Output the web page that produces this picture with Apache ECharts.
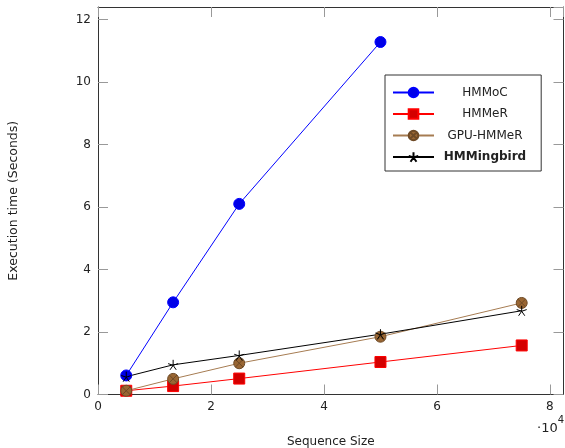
<!DOCTYPE html>
<html><head><meta charset="utf-8">
<script src="https://cdn.jsdelivr.net/npm/echarts@6/dist/echarts.min.js"></script>
<style>html,body{margin:0;padding:0;background:#fff}#c{width:565px;height:448px}</style>
</head><body><div id="c"></div>
<script>
// x values in units of 10^4
const xValues = [0.5, 1.33, 2.5, 5.0, 7.5];
const seriesNames = ['HMMoC', 'HMMeR', 'GPU-HMMeR', 'HMMingbird'];
const hmmoc = [0.61, 2.95, 6.1, 11.28];
const hmmer = [0.12, 0.27, 0.51, 1.04, 1.57];
const gpuHmmer = [0.12, 0.5, 1.0, 1.85, 2.93];
const hmmingbird = [0.57, 0.95, 1.25, 1.93, 2.68];
const xTicks = [0, 2, 4, 6, 8];
const yTicks = [0, 2, 4, 6, 8, 10, 12];

const FONT = 'DejaVu Sans';
function pairs(ys){ return ys.map((y,i)=>[xValues[i], y]); }
const otimes = 'path://M0,-10 A10,10 0 1,1 0,10 A10,10 0 1,1 0,-10 Z M-7.07,-7.07 L7.07,7.07 M-7.07,7.07 L7.07,-7.07';
const star = 'path://M0,-10 L0,0 M0,0 L9.51,-3.09 M0,0 L5.88,8.09 M0,0 L-5.88,8.09 M0,0 L-9.51,-3.09';

const chart = echarts.init(document.getElementById('c'), null, {renderer:'canvas'});
const axisCommon = {
  type:'value', min:0,
  axisLine:{show:true, onZero:false, lineStyle:{color:'#333', width:1}},
  axisTick:{show:true, inside:true, length:10, lineStyle:{color:'#999', width:1}},
  splitLine:{show:false}
};
chart.setOption({
  animation:false,
  textStyle:{fontFamily:FONT},
  grid:{left:98, top:7, right:1.5, bottom:53.5, containLabel:false, outerBoundsMode:'none'},
  legend:{
    left:385, top:75, orient:'vertical',
    borderColor:'#333', borderWidth:1,
    padding:[11.5,15,8,7], itemWidth:41, itemHeight:12, itemGap:9.5,
    data: seriesNames,
    formatter: n => n==='HMMingbird' ? '{b|'+n+'}' : '{a|'+n+'}',
    textStyle:{fontFamily:FONT, color:'#222', fontSize:12,
      rich:{a:{width:92, align:'center', fontSize:12, fontFamily:FONT, color:'#222'},
            b:{width:92, align:'center', fontSize:12, fontFamily:FONT, color:'#222', fontWeight:'bold'}}}
  },
  xAxis:[
    Object.assign({}, axisCommon, {max:8.24, interval:2, position:'bottom',
      name:'Sequence Size', nameLocation:'middle', nameGap:41,
      nameTextStyle:{fontFamily:FONT, fontSize:12, color:'#222'},
      axisLabel:{showMaxLabel:false, fontFamily:FONT, fontSize:12, color:'#222', margin:6,
        formatter:v=> xTicks.indexOf(v)>=0 ? String(v) : ''}}),
    Object.assign({}, axisCommon, {max:8.24, interval:2, position:'top', axisLabel:{show:false}})
  ],
  yAxis:[
    Object.assign({}, axisCommon, {max:12.4, interval:2, position:'left',
      name:'Execution time (Seconds)', nameLocation:'middle', nameGap:78,
      nameTextStyle:{fontFamily:FONT, fontSize:12.5, color:'#222'},
      axisLabel:{showMaxLabel:false, fontFamily:FONT, fontSize:12, color:'#222', margin:7,
        formatter:v=> yTicks.indexOf(v)>=0 ? String(v) : ''}}),
    Object.assign({}, axisCommon, {max:12.4, interval:2, position:'right', axisLabel:{show:false}})
  ],
  graphic:[{
    type:'text', left:537, top:415,
    style:{text:'{d|·10}{s|4}', rich:{d:{fontFamily:FONT, fontSize:13, fill:'#222', padding:[7,0,0,0]}, s:{fontFamily:FONT, fontSize:10, fill:'#222', verticalAlign:'top', padding:[0,0,4,0]}}}
  }],
  series:[
    {name:'HMMoC', type:'line', data:pairs(hmmoc), symbol:'circle', symbolSize:11,
     lineStyle:{color:'#0000ff', width:1}, itemStyle:{color:'#0000e8', borderColor:'#0000ff', borderWidth:1}},
    {name:'HMMeR', type:'line', data:pairs(hmmer), symbol:'rect', symbolSize:11,
     lineStyle:{color:'#ff0000', width:1}, itemStyle:{color:'#d40000', borderColor:'#ff0000', borderWidth:1}},
    {name:'GPU-HMMeR', type:'line', data:pairs(gpuHmmer), symbol:otimes, symbolSize:11,
     lineStyle:{color:'#a67c52', width:1}, itemStyle:{color:'#996633', borderColor:'#6e4a26', borderWidth:1}},
    {name:'HMMingbird', type:'line', data:pairs(hmmingbird), symbol:star, symbolSize:10,
     lineStyle:{color:'#000', width:1}, itemStyle:{color:'#000', borderColor:'#000', borderWidth:1}}
  ]
});
</script></body></html>
